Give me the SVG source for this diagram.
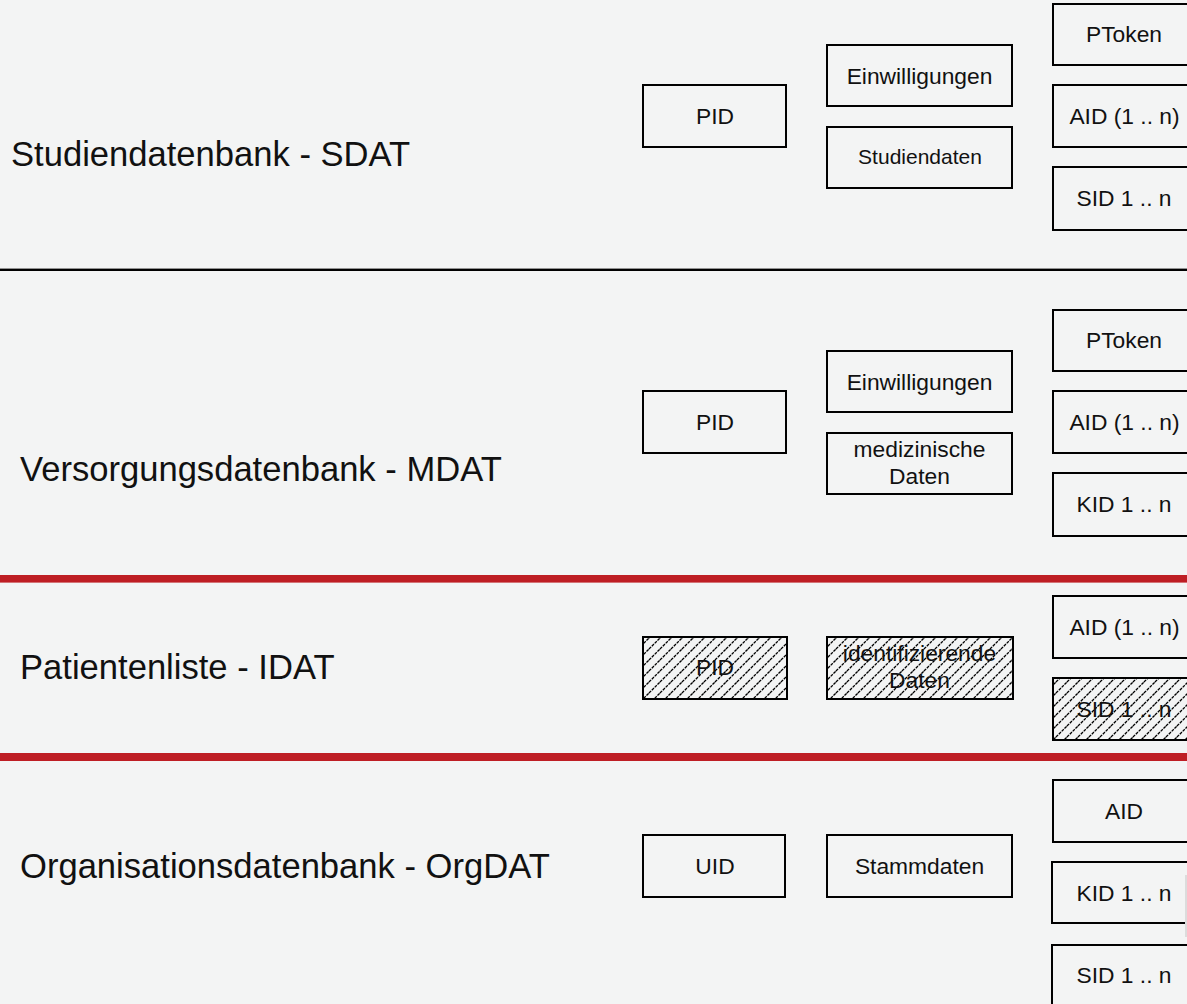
<svg xmlns="http://www.w3.org/2000/svg" width="1187" height="1004" viewBox="0 0 1187 1004">
<defs>
<pattern id="hatch" patternUnits="userSpaceOnUse" width="11" height="11">
<path d="M0,11 L11,0 M-2,2 L2,-2 M9,13 L13,9" stroke="#000" stroke-width="1.3" stroke-dasharray="3 1"/>
</pattern>
<style>
.box{fill:#f3f4f4;stroke:#000;stroke-width:2}
.hbox{fill:url(#hatch);stroke:#000;stroke-width:2}
.t{font-family:"Liberation Sans",Arial,sans-serif;font-size:22.8px;fill:#111;text-anchor:middle}
.ts{font-family:"Liberation Sans",Arial,sans-serif;font-size:21px;fill:#111;text-anchor:middle}
.title{font-family:"Liberation Sans",Arial,sans-serif;font-size:34.6px;fill:#111}
</style>
</defs>
<rect x="0" y="0" width="1187" height="1004" fill="#f3f4f4"/>

<g id="separators">
<rect x="0" y="268.6" width="1187" height="2.4" fill="#000"/>
<rect x="0" y="575" width="1187" height="7.6" fill="#be1e24"/>
<rect x="0" y="753" width="1187" height="8" fill="#be1e24"/>
</g>

<g id="connectors"></g>

<!-- Section 1: SDAT -->
<g id="title-sdat"><text class="title" x="11" y="166">Studiendatenbank - SDAT</text></g>
<g id="sdat-pid"><rect class="box" x="643" y="85" width="143" height="62"/><text class="t" x="715" y="124">PID</text></g>
<g id="sdat-einw"><rect class="box" x="827" y="45" width="185" height="61"/><text class="t" x="919.5" y="83.5">Einwilligungen</text></g>
<g id="sdat-studien"><rect class="box" x="827" y="127" width="185" height="61"/><text class="ts" x="920" y="164">Studiendaten</text></g>
<g id="sdat-ptoken"><rect class="box" x="1053" y="4" width="143" height="61"/><text class="t" x="1124" y="42">PToken</text></g>
<g id="sdat-aid"><rect class="box" x="1053" y="85" width="143" height="62"/><text class="t" x="1124.5" y="124">AID (1 .. n)</text></g>
<g id="sdat-sid"><rect class="box" x="1053" y="167" width="143" height="63"/><text class="t" x="1124" y="206">SID 1 .. n</text></g>

<!-- Section 2: MDAT -->
<g id="title-mdat"><text class="title" x="20" y="481">Versorgungsdatenbank - MDAT</text></g>
<g id="mdat-pid"><rect class="box" x="643" y="391" width="143" height="62"/><text class="t" x="715" y="430">PID</text></g>
<g id="mdat-einw"><rect class="box" x="827" y="351" width="185" height="61"/><text class="t" x="919.5" y="389.5">Einwilligungen</text></g>
<g id="mdat-med"><rect class="box" x="827" y="433" width="185" height="61"/><text class="t" x="919.5" y="456.7">medizinische</text><text class="t" x="919.5" y="484.3">Daten</text></g>
<g id="mdat-ptoken"><rect class="box" x="1053" y="310" width="143" height="61"/><text class="t" x="1124" y="348">PToken</text></g>
<g id="mdat-aid"><rect class="box" x="1053" y="391" width="143" height="62"/><text class="t" x="1124.5" y="430">AID (1 .. n)</text></g>
<g id="mdat-kid"><rect class="box" x="1053" y="473" width="143" height="63"/><text class="t" x="1124" y="512">KID 1 .. n</text></g>

<!-- Section 3: IDAT -->
<g id="title-idat"><text class="title" x="20" y="679">Patientenliste - IDAT</text></g>
<g id="idat-pid"><rect class="hbox" x="643" y="637" width="144" height="62"/><text class="t" x="715" y="675">PID</text></g>
<g id="idat-ident"><rect class="hbox" x="827" y="637" width="186" height="62"/><text class="t" x="919.5" y="661">identifizierende</text><text class="t" x="919.5" y="688">Daten</text></g>
<g id="idat-aid"><rect class="box" x="1053" y="596" width="143" height="62"/><text class="t" x="1124.5" y="635">AID (1 .. n)</text></g>
<g id="idat-sid"><rect class="hbox" x="1053" y="678" width="143" height="62"/><text class="t" x="1124" y="717">SID 1 .. n</text></g>

<!-- Section 4: OrgDAT -->
<g id="title-orgdat"><text class="title" x="20" y="878">Organisationsdatenbank - OrgDAT</text></g>
<g id="org-uid"><rect class="box" x="643" y="835" width="142" height="62"/><text class="t" x="715" y="874">UID</text></g>
<g id="org-stamm"><rect class="box" x="827" y="835" width="185" height="62"/><text class="t" x="919.5" y="874">Stammdaten</text></g>
<g id="org-aid"><rect class="box" x="1053" y="780" width="143" height="62"/><text class="t" x="1124" y="819">AID</text></g>
<g id="org-kid"><rect class="box" x="1052" y="862" width="144" height="61"/><text class="t" x="1124" y="901">KID 1 .. n</text></g>
<g id="org-sid"><rect class="box" x="1052" y="945" width="144" height="70"/><text class="t" x="1124" y="983">SID 1 .. n</text></g>
<rect x="1185" y="875" width="2" height="62" fill="#dcdcdc"/>
</svg>
